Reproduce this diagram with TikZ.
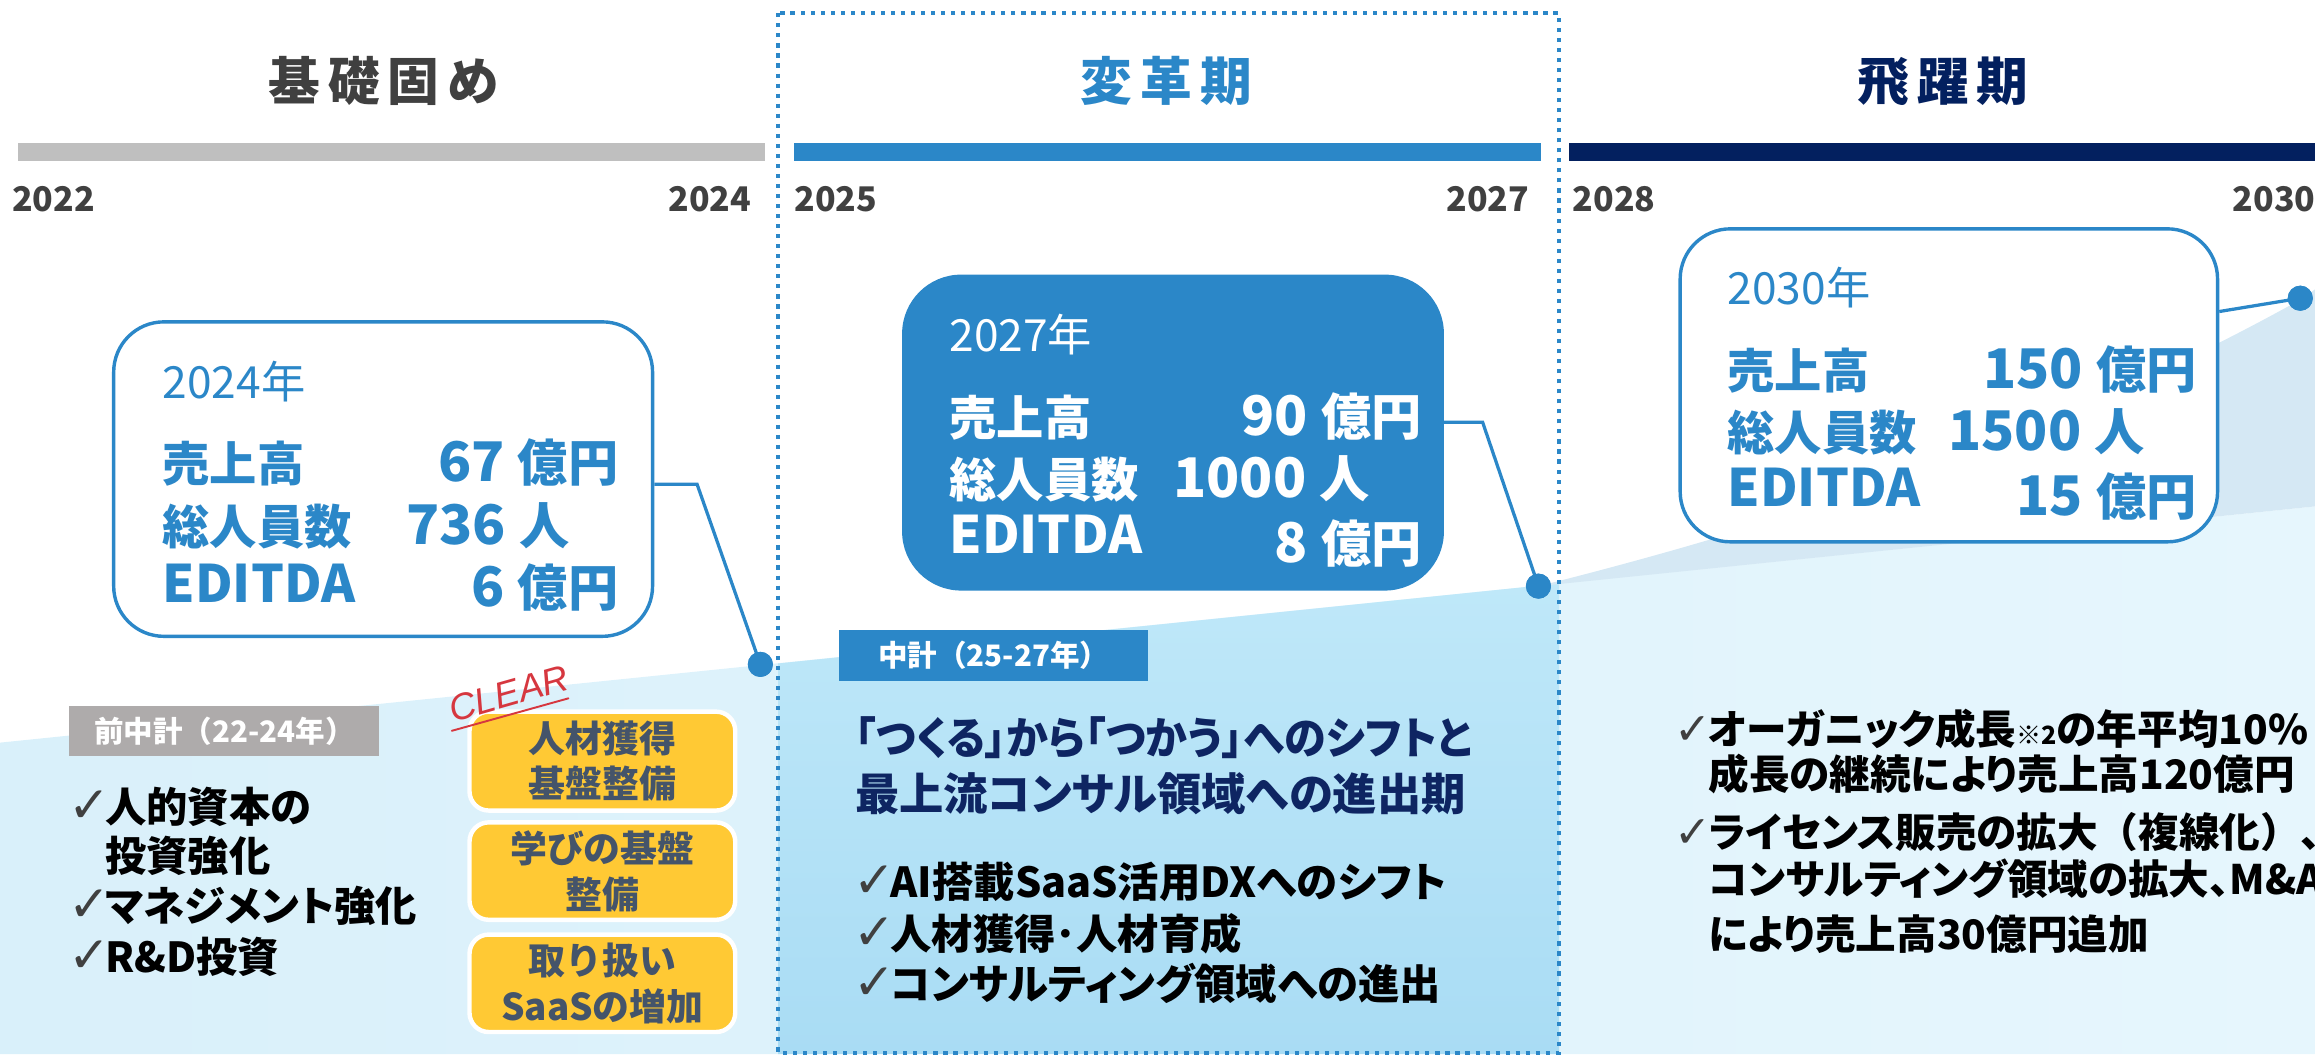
\documentclass[tikz,border=0pt]{standalone}
\usepackage{fontspec}
\newfontfamily\jp{Noto Sans CJK JP}
\newfontfamily\jpp{Noto Sans CJK JP}[RawFeature=+palt]
\newfontfamily\dv{DejaVu Sans}
\newfontfamily\lib{Liberation Sans}
\definecolor{blueM}{HTML}{2B87C8}
\definecolor{navy}{HTML}{03205F}
\definecolor{navyT}{HTML}{0E2562}
\definecolor{grayBar}{HTML}{BFBFBF}
\definecolor{gray4}{HTML}{404040}
\definecolor{grayLab}{HTML}{AEABAB}
\definecolor{yel}{HTML}{FFC934}
\definecolor{slate}{HTML}{44546A}
\definecolor{redC}{HTML}{D6373F}
\definecolor{bgL}{HTML}{D9F0FA}
\definecolor{bgR}{HTML}{E6F6FD}
\definecolor{midT}{HTML}{BFE8F9}
\definecolor{midB}{HTML}{A9DCF4}
\definecolor{wedgeC}{HTML}{D5E8F4}
\newcommand\numv[2]{{\fontsize{37}{37}\selectfont #1}\kern9pt{\fontsize{34}{34}\selectfont #2}}
\newcommand\fwp[1]{{\jp\bfseries #1}}
\tikzset{
  ttl/.style={font=\jp\bfseries\fontsize{35}{35}\selectfont, inner sep=0, anchor=base},
  yr/.style={font=\jp\bfseries\fontsize{23}{23}\selectfont, text=gray4, inner sep=0},
  wbox/.style={draw=blueM, line width=2.3pt, fill=white, rounded corners=34pt, inner sep=0},
  fbox/.style={fill=blueM, rounded corners=40pt, inner sep=0},
  yrl/.style={font=\jp\fontsize{30}{30}\selectfont, inner sep=0, anchor=base west},
  lab/.style={font=\jp\bfseries\fontsize{32}{32}\selectfont, inner sep=0, anchor=base west},
  lat/.style={font=\jp\bfseries\fontsize{35}{35}\selectfont, inner sep=0, anchor=base west},
  val/.style={font=\jp\bfseries, inner sep=0, anchor=base east},
  conn/.style={draw=blueM, line width=2.2pt},
  dotn/.style={circle, fill=blueM, inner sep=0, minimum size=17pt},
  plan/.style={font=\jp\bfseries\fontsize{20}{20}\selectfont, text=white, inner sep=0, minimum height=34pt},
  chk/.style={font=\dv\fontsize{34}{34}\selectfont, text=gray4, inner sep=0, anchor=base west},
  chks/.style={font=\dv\fontsize{30}{30}\selectfont, text=gray4, inner sep=0, anchor=base west},
  bul/.style={font=\jpp\bfseries\fontsize{28}{28}\selectfont, text=black, inner sep=0, anchor=base west},
  bulr/.style={font=\jpp\bfseries\fontsize{27.5}{27.5}\selectfont, text=black, inner sep=0, anchor=base west},
  ybox/.style={fill=yel, draw=white, line width=3pt, rounded corners=13pt, minimum width=180pt, minimum height=66pt, inner sep=0,
    font=\jp\bfseries\fontsize{25}{31}\selectfont, text=slate, align=center},
  dotfr/.style={draw=blueM, line width=2.8pt, dash pattern=on 2.8pt off 4pt},
}
\begin{document}
\begin{tikzpicture}[x=1pt,y=-1pt]
\useasboundingbox (0,0) rectangle (1568,714);
\clip (0,0) rectangle (1568,714);
% background areas
\shade[left color=bgL, right color=bgR] (0,503) -- (1568,343) -- (1568,714) -- (0,714) -- cycle;
\shade[top color=midT, bottom color=midB] (527,449.4) -- (1056,395.3) -- (1056,714) -- (527,714) -- cycle;
\fill[wedgeC] (1042,397) .. controls (1250,345) and (1420,280) .. (1558,203) -- (1568,196) -- (1568,343) -- cycle;
% dotted frame
\draw[dotfr] (527,9) rectangle (1056,713);
% timeline bars
\fill[grayBar] (12,97) rectangle (518,109);
\fill[blueM] (538,97) rectangle (1044,109);
\fill[navy] (1063,97) rectangle (1570,109);
% titles
\node[ttl, text=gray4] (t1) at (260,68) {基\kern5.5pt 礎\kern5.5pt 固\kern5.5pt め};
\node[ttl, text=blueM] (t2) at (790,68) {変\kern5.5pt 革\kern5.5pt 期};
\node[ttl, text=navy] (t3) at (1316,68) {飛\kern5.5pt 躍\kern5.5pt 期};
% years
\node[yr, anchor=base west] (y22) at (8,143) {2022};
\node[yr, anchor=base east] (y24) at (509,143) {2024};
\node[yr, anchor=base west] (y25) at (538,143) {2025};
\node[yr, anchor=base east] (y27) at (1036,143) {2027};
\node[yr, anchor=base west] (y28) at (1065,143) {2028};
\node[yr, anchor=base west] (y30) at (1512,143) {2030};
% boxes
\node[wbox, minimum width=365pt, minimum height=213pt] (b24) at (259.5,324.5) {};
\node[fbox, minimum width=367pt, minimum height=214pt] (b27) at (794.5,293) {};
\node[wbox, minimum width=364pt, minimum height=212pt] (b30) at (1320,261) {};
% dots
\node[dotn] (d24) at (515,450) {};
\node[dotn] (d27) at (1042,397) {};
\node[dotn] (d30) at (1558,202) {};
% connectors
\draw[conn] ([yshift=-3.5pt]b24.east) -- ++(29,0) -- (d24.center);
\draw[conn] ([yshift=7pt]b27.east) -- ++(26,0) -- (d27.center);
\draw[conn] ([yshift=50pt]b30.east) -- (d30.center);
\node[dotn] (d24b) at (d24) {};
\node[dotn] (d27b) at (d27) {};
\node[dotn] (d30b) at (d30) {};
% box 2024 text
\begin{scope}[every node/.append style={text=blueM}]
\node[yrl] (b24y) at (110,270) {2024年};
\node[lab] (b24a) at (110,326) {売上高};
\node[lab] (b24b) at (110,369) {総人員数};
\node[lat] (b24c) at (110,408) {EDITDA};
\node[val] (b24v1) at (419,326) {\numv{67}{億円}};
\node[val] (b24v2) at (386,369) {\numv{736}{人}};
\node[val] (b24v3) at (419,411) {\numv{6}{億円}};
\end{scope}
% box 2027 text
\begin{scope}[every node/.append style={text=white}]
\node[yrl] (b27y) at (643,238) {2027年};
\node[lab] (b27a) at (643,295) {売上高};
\node[lab] (b27b) at (643,337) {総人員数};
\node[lat] (b27c) at (643,375) {EDITDA};
\node[val] (b27v1) at (963,295) {\numv{90}{億円}};
\node[val] (b27v2) at (928,337) {\numv{1000}{人}};
\node[val] (b27v3) at (963,381) {\numv{8}{億円}};
\end{scope}
% box 2030 text
\begin{scope}[every node/.append style={text=blueM}]
\node[yrl] (b30y) at (1170,206) {2030年};
\node[lab] (b30a) at (1170,263) {売上高};
\node[lab] (b30b) at (1170,305) {総人員数};
\node[lat] (b30c) at (1170,343) {EDITDA};
\node[val] (b30v1) at (1488,263) {\numv{150}{億円}};
\node[val] (b30v2) at (1453,305) {\numv{1500}{人}};
\node[val] (b30v3) at (1488,349) {\numv{15}{億円}};
\end{scope}
% plan labels
\node[plan, fill=grayLab, minimum width=210pt] (p1) at (152,495) {前中計（22-24年）};
\node[plan, fill=blueM, minimum width=209pt] (p2) at (673,444) {中計（25-27年）};
% left bullets
\node[chk] (lc1) at (46,557) {✓};
\node[bul] (lb1) at (71,557) {人的資本の};
\node[bul] (lb1b) at (71,590) {投資強化};
\node[chk] (lc2) at (46,624) {✓};
\node[bul] (lb2) at (71,624) {マネジメント強化};
\node[chk] (lc3) at (46,659) {✓};
\node[bul] (lb3) at (71,659) {R\&D投資};
% yellow boxes
\node[ybox, minimum height=67pt] (yb1) at (408,515.5) {人材獲得\\基盤整備};
\node[ybox] (yb2) at (408,590) {学びの基盤\\整備};
\node[ybox] (yb3) at (408,666) {取り扱い\\SaaSの増加};
% CLEAR stamp
\node[font=\lib\itshape\fontsize{25}{25}\selectfont, text=redC, inner sep=0, anchor=base, rotate=15.8] (clr) at (347,478) {CLEAR};
\coordinate (u1) at (306,495);
\coordinate (u2) at (385,473);
\draw[redC, line width=1.3pt, line cap=round] (u1) -- (u2);
% middle headline
\node[font=\jpp\bfseries\fontsize{30}{30}\selectfont, text=navyT, inner sep=0, anchor=base west] (h1) at (579,511) {\scalebox{0.95}[1]{「つくる」から「つかう」へのシフトと}};
\node[font=\jpp\bfseries\fontsize{30}{30}\selectfont, text=navyT, inner sep=0, anchor=base west] (h2) at (579,549) {最上流コンサル領域への進出期};
% middle bullets
\node[chk] (mc1) at (578,608) {✓};
\node[bul] (mb1) at (603,608) {AI搭載SaaS活用DXへのシフト};
\node[chk] (mc2) at (578,643) {✓};
\node[bul] (mb2) at (603,643) {人材獲得･人材育成};
\node[chk] (mc3) at (578,677) {✓};
\node[bul] (mb3) at (603,677) {コンサルティング領域への進出};
% right bullets
\node[chks] (rc1) at (1134,504) {✓};
\node[bulr] (rb1) at (1157,504) {オーガニック成長{\fontsize{17}{17}\selectfont ※2}の年平均10\%};
\node[bulr] (rb1b) at (1157,535) {成長の継続により売上高120億円};
\node[chks] (rc2) at (1134,574) {✓};
\node[bulr] (rb2) at (1157,574) {ライセンス販売の拡大\fwp{（}複線化\fwp{）}、};
\node[bulr] (rb2b) at (1157,606) {コンサルティング領域の拡大、M\&A};
\node[bulr] (rb2c) at (1157,643) {により売上高30億円追加};
\end{tikzpicture}
\end{document}
